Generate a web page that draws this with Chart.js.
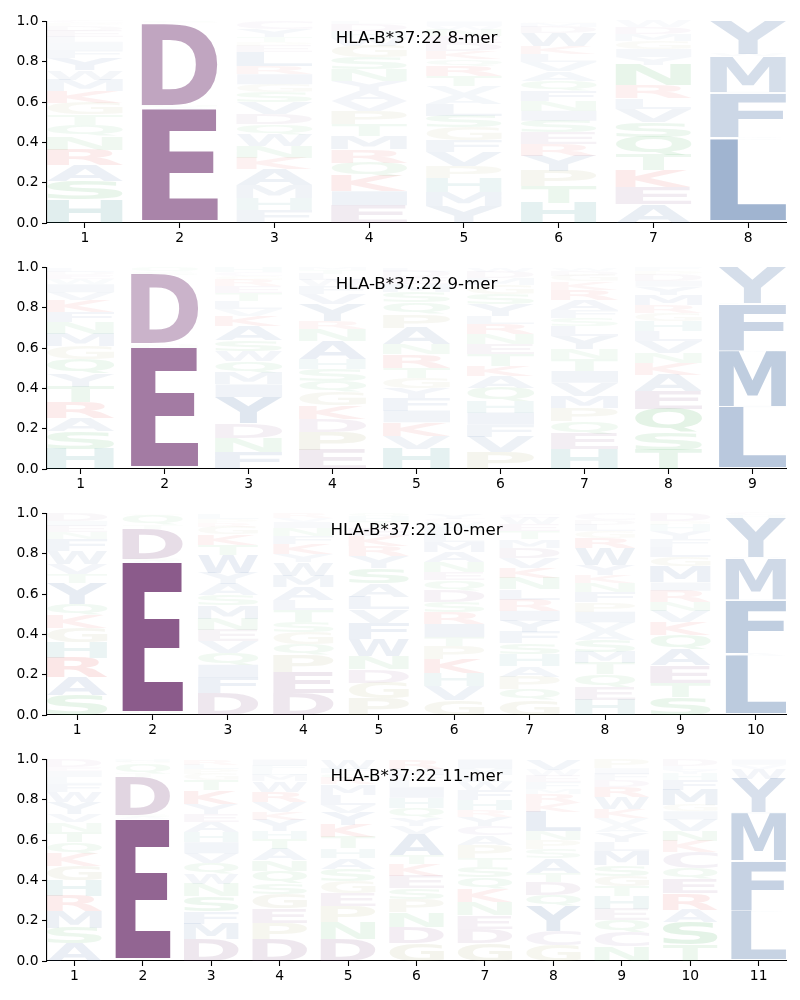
<!DOCTYPE html>
<html><head><meta charset="utf-8">
<script src="https://cdn.jsdelivr.net/npm/chart.js@4.4.1/dist/chart.umd.min.js"></script>
<style>html,body{margin:0;padding:0;background:#fff;}canvas{display:block;}</style>
</head><body>
<canvas id="c0" width="800" height="246"></canvas>
<canvas id="c1" width="800" height="246"></canvas>
<canvas id="c2" width="800" height="246"></canvas>
<canvas id="c3" width="800" height="246"></canvas>
<script>
// ---------- DATA (letters listed bottom-up per position, heights = probability) ----------
const titles = ['HLA-B*37:22 8-mer', 'HLA-B*37:22 9-mer', 'HLA-B*37:22 10-mer', 'HLA-B*37:22 11-mer'];
const yTicks = [0, 0.2, 0.4, 0.6, 0.8, 1.0];

const positions8 = [1, 2, 3, 4, 5, 6, 7, 8];
const letters8 = ['HSARNQTGKMWYFILEDPC', 'TNEAQNDGS', 'FHMAKNWQDVSGIRLEPTYC', 'EIKQRMTPVAYNSGWHDL',
  'YMHPVFGSLAVTRQKDENWI', 'HTPYRESINFQAVLKWDMG', 'AEKTQSVLRNYIGMDW', 'IVLAVFIMWY'];
const heights8 = [
  [.116,.093,.08,.075,.066,.058,.05,.058,.06,.056,.046,.06,.04,.035,.03,.03,.025,.012,.01],
  [.007,.006,.55,.01,.008,.007,.402,.005,.005],
  [.066,.06,.065,.075,.058,.058,.058,.05,.05,.058,.05,.04,.05,.04,.07,.03,.02,.025,.04,.037],
  [.088,.07,.075,.066,.066,.066,.058,.066,.05,.05,.05,.058,.058,.058,.04,.035,.033,.013],
  [.083,.07,.07,.06,.07,.058,.063,.058,.058,.045,.045,.05,.05,.033,.04,.04,.035,.03,.02,.022],
  [.1,.083,.075,.075,.058,.058,.058,.05,.05,.05,.05,.045,.045,.04,.04,.066,.03,.02,.007],
  [.093,.086,.083,.075,.09,.075,.066,.053,.063,.1,.04,.04,.04,.035,.033,.028],
  [.007,.006,.40,.007,.006,.216,.01,.177,.012,.159]
];

const positions9 = [1, 2, 3, 4, 5, 6, 7, 8, 9];
const letters9 = ['HSARTYQGMNFKVIWEDL', 'TAENQDSQ', 'FNDYIMQWSAKVLTERGCH', 'EPDKGQSHANRYVFWLTM',
  'HVKIFYGTRNAPQSMEDL', 'PVFIHQAKTENRLYSGMDW', 'HEQPMVITNYLSFARKGDW', 'TSQEAKNVLHGRMYIDPF', 'IVLIMWFHY'];
const heights9 = [
  [.1,.088,.066,.08,.075,.066,.07,.063,.063,.058,.05,.058,.04,.04,.025,.02,.018,.02],
  [.009,.008,.585,.011,.01,.339,.015,.023],
  [.086,.07,.071,.13,.063,.058,.058,.05,.053,.07,.05,.033,.04,.04,.035,.03,.02,.019,.024],
  [.094,.088,.066,.066,.066,.058,.058,.05,.09,.058,.04,.083,.05,.04,.03,.03,.02,.013],
  [.1,.066,.066,.058,.063,.05,.05,.05,.066,.05,.083,.066,.058,.05,.04,.035,.029,.02],
  [.086,.075,.058,.061,.058,.066,.058,.05,.058,.05,.05,.05,.04,.058,.05,.045,.035,.032,.02],
  [.098,.075,.063,.066,.06,.066,.058,.058,.05,.066,.05,.04,.04,.05,.05,.04,.03,.025,.015],
  [.094,.088,.115,.088,.083,.058,.05,.058,.05,.05,.04,.04,.05,.04,.03,.03,.02,.016],
  [.006,.006,.294,.008,.268,.008,.228,.004,.178]
];

const positions10 = [1, 2, 3, 4, 5, 6, 7, 8, 9, 10];
const letters10 = ['SARHGKQYTVWFNEID', 'TNEASDTQG', 'DFIQVENMSAYWTKGRPL', 'DEPQGSTLAMWYKFNIVR',
  'PGDNWFVLASYRKETHQ', 'GVHKPTIRSDQENAMLFWCY', 'GQPAHSFYIRLNKVDMTEWC', 'HEQTMSAVIPFNKYWRGLDC',
  'STEAQKVNRIMGLFYHPD', 'IVLAFIMWYHC'];
const heights10 = [
  [.1,.09,.094,.078,.07,.063,.058,.1,.046,.05,.066,.058,.035,.03,.025,.037],
  [.011,.01,.734,.011,.01,.149,.017,.05,.008],
  [.107,.08,.063,.06,.058,.055,.055,.066,.05,.055,.056,.09,.05,.05,.04,.02,.02,.025],
  [.11,.104,.083,.055,.061,.05,.058,.05,.063,.058,.066,.04,.05,.04,.04,.03,.02,.022],
  [.083,.078,.066,.066,.086,.08,.066,.063,.066,.075,.058,.05,.05,.04,.035,.025,.013],
  [.075,.071,.061,.07,.063,.046,.066,.058,.05,.058,.05,.04,.05,.05,.05,.04,.035,.025,.016,.026],
  [.075,.055,.061,.053,.058,.053,.055,.058,.05,.055,.05,.058,.05,.05,.05,.04,.04,.035,.032,.022],
  [.075,.063,.063,.055,.056,.058,.045,.045,.053,.046,.05,.046,.041,.05,.083,.05,.035,.03,.025,.031],
  [.09,.071,.086,.08,.071,.063,.055,.046,.055,.041,.08,.046,.05,.04,.04,.03,.02,.036],
  [.006,.006,.281,.013,.261,.008,.202,.008,.195,.01,.01]
];

const positions11 = [1, 2, 3, 4, 5, 6, 7, 8, 9, 10, 11];
const letters11 = ['ASMRHGKQTNVYWFLIED', 'TNEASDTQGH', 'DMFSNWQVIHAEYKTGPLR', 'DPEGSQNATHYKVRWMLFI',
  'DNPEGSAHTKYVLMRQFW', 'GDNPSEKTAVYQHILFMR', 'GDENKQSTPACYRHFWLMI', 'GCYQDTASPNLKRMFEWV',
  'NCQEHTGSMLYAVKWRDFIP', 'TSAREQCKNVIGMFHYLD', 'ILAFVMIYWVI'];
const heights11 = [
  [.088,.078,.083,.074,.078,.07,.063,.055,.053,.046,.041,.058,.05,.041,.035,.03,.021,.036],
  [.009,.008,.688,.01,.01,.188,.017,.05,.01,.01],
  [.11,.076,.06,.075,.061,.05,.053,.05,.055,.05,.05,.041,.05,.066,.05,.03,.025,.023,.025],
  [.11,.08,.07,.07,.055,.061,.053,.055,.05,.041,.055,.041,.05,.05,.05,.03,.025,.023,.031],
  [.11,.083,.078,.066,.061,.061,.053,.046,.055,.061,.061,.041,.05,.05,.03,.025,.023,.046],
  [.088,.08,.073,.066,.056,.061,.058,.046,.1,.041,.041,.05,.05,.05,.035,.03,.03,.045],
  [.088,.073,.066,.066,.063,.058,.053,.046,.063,.046,.046,.046,.033,.05,.05,.04,.035,.035,.043],
  [.08,.071,.12,.058,.063,.046,.071,.045,.045,.045,.094,.045,.045,.025,.035,.03,.029,.053],
  [.071,.07,.063,.055,.061,.05,.053,.055,.069,.046,.046,.035,.035,.045,.058,.05,.035,.03,.029,.044],
  [.08,.112,.063,.08,.071,.053,.08,.055,.053,.055,.041,.033,.074,.05,.03,.02,.02,.03],
  [.008,.236,.008,.24,.008,.231,.008,.165,.05,.02,.026]
];

// ---------- STYLE ----------
const baseColors = {
  D: [118, 60, 118], E: [118, 60, 118],
  A: [48, 92, 153], V: [48, 92, 153], L: [48, 92, 153], I: [48, 92, 153], M: [48, 92, 153],
  F: [48, 92, 153], W: [48, 92, 153], Y: [48, 92, 153],
  S: [50, 165, 70], T: [50, 165, 70], N: [50, 165, 70], Q: [50, 165, 70],
  K: [220, 40, 40], R: [220, 40, 40],
  H: [30, 130, 130],
  G: [150, 150, 80], P: [150, 150, 80],
  C: [130, 100, 160]
};
function letterColor(ch, h) {
  const c = baseColors[ch] || [120, 120, 120];
  const a = Math.min(1, Math.max(0.02, 1.15 * h));
  return 'rgba(' + c[0] + ',' + c[1] + ',' + c[2] + ',' + a.toFixed(3) + ')';
}
const GLYPH_FONT = 'bold 200px "DejaVu Sans"';
const glyphCache = {};
function glyphBox(ctx, ch) {
  if (glyphCache[ch]) return glyphCache[ch];
  ctx.save();
  ctx.font = GLYPH_FONT;
  const m = ctx.measureText(ch);
  ctx.restore();
  glyphCache[ch] = { l: m.actualBoundingBoxLeft, r: m.actualBoundingBoxRight, a: m.actualBoundingBoxAscent, d: m.actualBoundingBoxDescent };
  return glyphCache[ch];
}
function drawGlyph(ctx, ch, x0, yTop, w, h, color) {
  if (h <= 0.05) return;
  const g = glyphBox(ctx, ch);
  ctx.save();
  ctx.font = GLYPH_FONT;
  ctx.textAlign = 'left';
  ctx.textBaseline = 'alphabetic';
  ctx.fillStyle = color;
  ctx.translate(x0, yTop);
  ctx.scale(w / (g.l + g.r), h / (g.a + g.d));
  ctx.fillText(ch, g.l, g.a);
  ctx.restore();
}

const logoPlugin = {
  id: 'logo',
  afterDatasetsDraw(chart, args, opts) {
    const ctx = chart.ctx;
    const yScale = chart.scales.y;
    const meta = chart.getDatasetMeta(0);
    meta.data.forEach((bar, i) => {
      const letters = opts.letters[i];
      const hs = opts.heights[i];
      let cum = 0;
      const x0 = bar.x - bar.width / 2;
      for (let k = 0; k < letters.length; k++) {
        const yb = yScale.getPixelForValue(cum);
        const yt = yScale.getPixelForValue(cum + hs[k]);
        cum += hs[k];
        drawGlyph(ctx, letters[k], x0, yt, bar.width, yb - yt, letterColor(letters[k], hs[k]));
      }
    });
    // title inside the plot area
    const ca = chart.chartArea;
    ctx.save();
    ctx.font = '16.67px "DejaVu Sans"';
    ctx.fillStyle = '#000';
    ctx.textAlign = 'center';
    ctx.textBaseline = 'alphabetic';
    ctx.fillText(opts.title, (ca.left + ca.right) / 2, ca.top + 21);
    ctx.restore();
  }
};

const tickFont = { family: 'DejaVu Sans', size: 13.89 };

function makeLogo(canvasId, positions, letters, heights, title) {
  const totals = heights.map(col => col.reduce((s, v) => s + v, 0));
  new Chart(document.getElementById(canvasId), {
    type: 'bar',
    data: {
      datasets: [{
        data: positions.map((p, i) => ({ x: p, y: totals[i] })),
        backgroundColor: 'rgba(0,0,0,0)',
        borderWidth: 0,
        barPercentage: 0.8,
        categoryPercentage: 1.0
      }]
    },
    options: {
      responsive: false,
      animation: false,
      devicePixelRatio: 1,
      layout: { padding: { top: 21.5, right: 14, left: 0, bottom: 0 } },
      plugins: {
        legend: { display: false },
        tooltip: { enabled: false },
        logo: { letters: letters, heights: heights, title: title }
      },
      scales: {
        x: {
          type: 'linear',
          min: positions[0] - 0.4,
          max: positions[positions.length - 1] + 0.4,
          offset: false,
          z: 1,
          afterBuildTicks: s => { s.ticks = positions.map(v => ({ value: v })); },
          afterFit: s => { s.height = 23; },
          ticks: { font: tickFont, color: '#000', padding: 2.5, maxRotation: 0, autoSkip: false,
                   callback: v => String(v) },
          grid: { display: true, drawOnChartArea: false, drawTicks: true, tickLength: 5,
                  tickWidth: 1.1, tickColor: '#000', offset: false },
          border: { display: true, color: '#000', width: 1.1 }
        },
        y: {
          min: 0, max: 1,
          z: 1,
          afterBuildTicks: s => { s.ticks = yTicks.map(v => ({ value: v })); },
          afterFit: s => { s.width = 47; },
          ticks: { font: tickFont, color: '#000', padding: 3.5, callback: v => Number(v).toFixed(1) },
          grid: { display: true, drawOnChartArea: false, drawTicks: true, tickLength: 5,
                  tickWidth: 1.1, tickColor: '#000' },
          border: { display: true, color: '#000', width: 1.1 }
        }
      }
    },
    plugins: [logoPlugin]
  });
}

makeLogo('c0', positions8, letters8, heights8, titles[0]);
makeLogo('c1', positions9, letters9, heights9, titles[1]);
makeLogo('c2', positions10, letters10, heights10, titles[2]);
makeLogo('c3', positions11, letters11, heights11, titles[3]);
</script>
</body></html>
